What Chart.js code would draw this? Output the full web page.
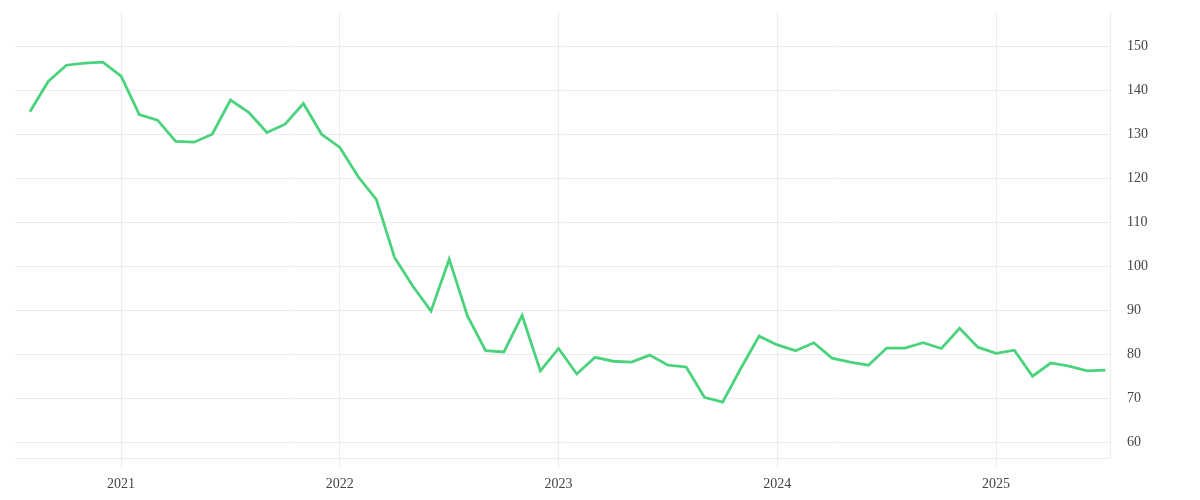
<!DOCTYPE html>
<html>
<head>
<meta charset="utf-8">
<script src="https://cdn.jsdelivr.net/npm/chart.js@4"></script>
<style>
  html, body { margin: 0; padding: 0; background: #fff; }
  #wrap { width: 1200px; height: 500px; }
</style>
</head>
<body>
<div id="wrap"><canvas id="chart"></canvas></div>
<script>
// monthly values, Aug 2020 .. Jul 2025
const months = [
  '2020-08','2020-09','2020-10','2020-11','2020-12',
  '2021-01','2021-02','2021-03','2021-04','2021-05','2021-06','2021-07','2021-08','2021-09','2021-10','2021-11','2021-12',
  '2022-01','2022-02','2022-03','2022-04','2022-05','2022-06','2022-07','2022-08','2022-09','2022-10','2022-11','2022-12',
  '2023-01','2023-02','2023-03','2023-04','2023-05','2023-06','2023-07','2023-08','2023-09','2023-10','2023-11','2023-12',
  '2024-01','2024-02','2024-03','2024-04','2024-05','2024-06','2024-07','2024-08','2024-09','2024-10','2024-11','2024-12',
  '2025-01','2025-02','2025-03','2025-04','2025-05','2025-06','2025-07'
];
const values = [
  135.1, 142.0, 145.7, 146.2, 146.4,
  143.2, 134.5, 133.2, 128.4, 128.2, 130.0, 137.8, 135.0, 130.4, 132.3, 137.0, 130.0,
  127.0, 120.4, 115.2, 102.0, 95.5, 89.8, 101.6, 88.7, 80.8, 80.5, 88.8, 76.2,
  81.3, 75.5, 79.3, 78.4, 78.2, 79.8, 77.5, 77.1, 70.2, 69.1, 76.8, 84.1,
  82.1, 80.8, 82.6, 79.1, 78.2, 77.5, 81.4, 81.4, 82.6, 81.3, 85.9, 81.6,
  80.2, 80.9, 75.0, 78.0, 77.3, 76.2, 76.4
];
const yearTicks = ['2021', '2022', '2023', '2024', '2025'];
const yTicks = [60, 70, 80, 90, 100, 110, 120, 130, 140, 150];

const points = values.map((v, i) => ({ x: i, y: v }));
const yearIndex = yearTicks.map(y => months.indexOf(y + '-01'));

const gridColor = '#ececec';
const font = { family: 'Liberation Serif', size: 14 };

new Chart(document.getElementById('chart'), {
  type: 'line',
  data: {
    datasets: [{
      data: points,
      borderColor: '#4ad37c',
      borderWidth: 2.8,
      pointRadius: 0,
      tension: 0,
      fill: false
    }]
  },
  options: {
    responsive: true,
    maintainAspectRatio: false,
    animation: false,
    layout: { padding: { left: 15, top: 12, right: 0, bottom: 0 } },
    plugins: { legend: { display: false }, tooltip: { enabled: false } },
    scales: {
      x: {
        type: 'linear',
        min: -0.82,
        max: 59.25,
        afterBuildTicks: s => { s.ticks = yearIndex.map(v => ({ value: v })); },
        afterFit: s => { s.height = 42; s.paddingLeft = 0; s.paddingRight = 0; },
        grid: { color: gridColor, tickLength: 10 },
        border: { color: gridColor },
        ticks: {
          color: '#444',
          font: font,
          padding: 8,
          maxRotation: 0,
          callback: v => months[v] ? months[v].slice(0, 4) : ''
        }
      },
      y: {
        position: 'right',
        min: 56.4,
        max: 157.8,
        afterBuildTicks: s => { s.ticks = yTicks.map(v => ({ value: v })); },
        afterFit: s => { s.width = 90; s.paddingTop = 0; s.paddingBottom = 0; },
        grid: { color: gridColor, drawTicks: false },
        border: { color: gridColor },
        ticks: { color: '#444', font: font, padding: 17 }
      }
    }
  }
});
</script>
</body>
</html>
